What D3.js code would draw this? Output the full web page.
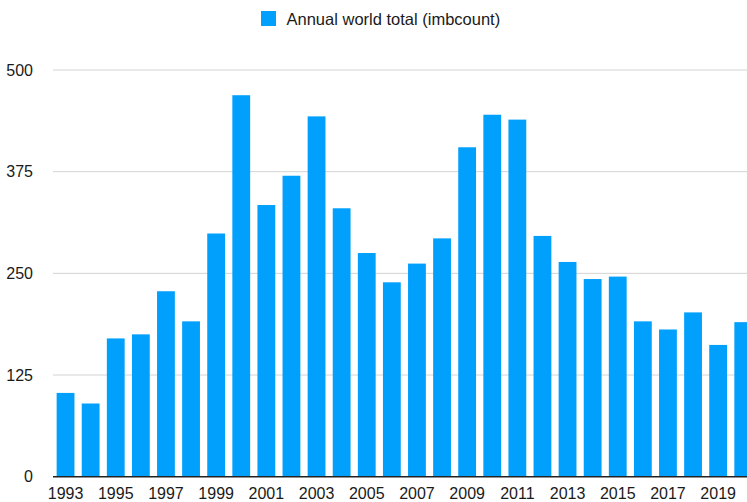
<!DOCTYPE html>
<html>
<head>
<meta charset="utf-8">
<script src="https://cdn.jsdelivr.net/npm/d3@7"></script>
<style>
  html, body { margin: 0; padding: 0; background: #fff; }
  svg { display: block; }
  text { font-family: "Liberation Sans", Arial, Helvetica, sans-serif; }
</style>
</head>
<body>
<svg id="chart" width="747" height="502"></svg>
<script>
const years = [1993,1994,1995,1996,1997,1998,1999,2000,2001,2002,2003,2004,2005,2006,2007,2008,2009,2010,2011,2012,2013,2014,2015,2016,2017,2018,2019,2020];
const values = [103,90,170,175,228,191,299,469,334,370,443,330,275,239,262,293,405,445,439,296,264,243,246,191,181,202,162,190];
const yTicks = [0,125,250,375,500];
const seriesName = "Annual world total (imbcount)";

(function () {
const W = 747, H = 502;
const plotLeft = 53, plotTop = 70, plotBottom = 476.7;
const step = 25.1;

const svg = d3.select("#chart");

const x = d3.scaleBand()
  .domain(years)
  .range([plotLeft, plotLeft + step * years.length])
  .paddingInner(0.29)
  .paddingOuter(0.145);

const y = d3.scaleLinear().domain([0, 500]).range([plotBottom, plotTop]);

// gridlines
svg.append("g").selectAll("line")
  .data(yTicks.filter(d => d > 0))
  .join("line")
  .attr("x1", plotLeft).attr("x2", W)
  .attr("y1", d => y(d)).attr("y2", d => y(d))
  .attr("stroke", "#d3d3d3").attr("stroke-width", 1);

// y labels
svg.append("g").selectAll("text")
  .data(yTicks)
  .join("text")
  .attr("x", 33).attr("y", d => y(d))
  .attr("text-anchor", "end")
  .attr("dominant-baseline", "central")
  .attr("font-size", 16)
  .attr("fill", "#1a1a1a")
  .text(d => d);

// bars
svg.append("g").selectAll("rect")
  .data(values)
  .join("rect")
  .attr("x", (d, i) => x(years[i]))
  .attr("width", x.bandwidth())
  .attr("y", d => y(d))
  .attr("height", d => y(0) - y(d))
  .attr("fill", "#02a0fd");

// x axis line
svg.append("line")
  .attr("x1", plotLeft).attr("x2", W)
  .attr("y1", y(0)).attr("y2", y(0))
  .attr("stroke", "#222").attr("stroke-width", 1.5);

// x labels
svg.append("g").selectAll("text")
  .data(years.filter(d => d % 2 === 1))
  .join("text")
  .attr("x", d => x(d) + x.bandwidth() / 2)
  .attr("y", 498.5)
  .attr("text-anchor", "middle")
  .attr("font-size", 16)
  .attr("fill", "#1a1a1a")
  .text(d => d);

// legend
const lg = svg.append("g");
lg.append("rect").attr("x", 261).attr("y", 11).attr("width", 15).attr("height", 15).attr("fill", "#02a0fd");
lg.append("text").attr("x", 286.5).attr("y", 18.5)
  .attr("dominant-baseline", "central")
  .attr("font-size", 16.5)
  .attr("fill", "#1a1a1a")
  .text(seriesName);
})();
</script>
</body>
</html>
